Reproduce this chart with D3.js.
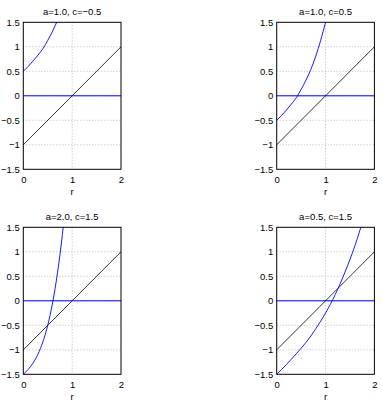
<!DOCTYPE html>
<html>
<head>
<meta charset="UTF-8">
<title>Four panels in r</title>
<script src="https://d3js.org/d3.v7.min.js"></script>
<style>
  body { margin: 0; background: #fff; }
  text { font-family: "Liberation Sans", Arial, Helvetica, sans-serif; font-size: 9.5px; fill: #000; }
  .grid line { stroke: #b8b8b8; stroke-width: 1; stroke-dasharray: 1,2; }
  .frame { fill: none; stroke: #000; stroke-width: 1; }
</style>
</head>
<body>
<svg width="382" height="403"></svg>
<script>
// panel titles (a, c)
var titles = ["a=1.0, c=\u22120.5", "a=1.0, c=0.5", "a=2.0, c=1.5", "a=0.5, c=1.5"];

// ticks
var xTicks = [0, 1, 2];
var yTicks = [-1.5, -1, -0.5, 0, 0.5, 1, 1.5];
var yTickLabels = ["\u22121.5", "\u22121", "\u22120.5", "0", "0.5", "1", "1.5"];

// black line, same in every panel
var lineR = [0, 2];
var lineY = [-1, 1];

// blue zero line
var zeroR = [0, 2];
var zeroY = [0, 0];

// blue curve
var curveR1 = [0, 0.1, 0.2, 0.3, 0.4, 0.5, 0.6, 0.7];
var curveY1 = [0.5, 0.6, 0.71, 0.83, 0.96, 1.13, 1.32, 1.54];

var curveR2 = [0, 0.1, 0.2, 0.3, 0.4, 0.5, 0.6, 0.7, 0.8, 0.9, 1.0];
var curveY2 = [-0.5, -0.4, -0.29, -0.17, -0.04, 0.13, 0.32, 0.54, 0.81, 1.13, 1.5];

var curveR3 = [0, 0.1, 0.2, 0.3, 0.4, 0.5, 0.6, 0.7, 0.8, 0.85];
var curveY3 = [-1.5, -1.4, -1.27, -1.09, -0.84, -0.5, -0.04, 0.57, 1.35, 1.81];

var curveR4 = [0, 0.2, 0.4, 0.6, 0.8, 1.0, 1.2, 1.4, 1.6, 1.8];
var curveY4 = [-1.5, -1.3, -1.08, -0.85, -0.57, -0.25, 0.13, 0.59, 1.12, 1.76];

var curvesR = [curveR1, curveR2, curveR3, curveR4];
var curvesY = [curveY1, curveY2, curveY3, curveY4];

var svg = d3.select("svg");

// axes boxes: two columns, two rows
var colLeft = [23.3, 276.7];
var rowTop = [22.3, 227.3];
var boxW = 97.7, boxH = 147;

function zip(rs, ys) {
  return rs.map(function(r, i) { return [r, ys[i]]; });
}

titles.forEach(function(title, i) {
  var left = colLeft[i % 2], top = rowTop[Math.floor(i / 2)];

  var x = d3.scaleLinear().domain([0, 2]).range([0, boxW]);
  var y = d3.scaleLinear().domain([-1.5, 1.5]).range([boxH, 0]);

  var g = svg.append("g").attr("transform", "translate(" + left + "," + top + ")");

  g.append("clipPath").attr("id", "clip" + i)
    .append("rect").attr("width", boxW).attr("height", boxH);

  // dotted grid at the inner ticks
  var grid = g.append("g").attr("class", "grid");
  grid.selectAll(".gy")
    .data(yTicks.slice(1, -1))
    .enter().append("line")
      .attr("x1", 0).attr("x2", boxW)
      .attr("y1", function(d) { return y(d); })
      .attr("y2", function(d) { return y(d); });
  grid.selectAll(".gx")
    .data(xTicks.slice(1, -1))
    .enter().append("line")
      .attr("y1", 0).attr("y2", boxH)
      .attr("x1", function(d) { return x(d); })
      .attr("x2", function(d) { return x(d); });

  var line = d3.line()
    .x(function(d) { return x(d[0]); })
    .y(function(d) { return y(d[1]); });

  var plot = g.append("g").attr("clip-path", "url(#clip" + i + ")");

  plot.append("path")
    .datum(zip(zeroR, zeroY))
    .attr("fill", "none").attr("stroke", "#0000ff").attr("stroke-width", 1)
    .attr("d", line);

  plot.append("path")
    .datum(zip(lineR, lineY))
    .attr("fill", "none").attr("stroke", "#000").attr("stroke-width", 0.8)
    .attr("d", line);

  plot.append("path")
    .datum(zip(curvesR[i], curvesY[i]))
    .attr("fill", "none").attr("stroke", "#0000ff").attr("stroke-width", 0.9)
    .attr("d", line.curve(d3.curveMonotoneX));

  // frame
  g.append("rect").attr("class", "frame")
    .attr("width", boxW).attr("height", boxH);

  // tick labels
  g.append("g").attr("transform", "translate(0," + boxH + ")")
    .call(d3.axisBottom(x).tickValues(xTicks).tickSize(0).tickPadding(7)
      .tickFormat(d3.format("d")))
    .call(function(a) { a.select(".domain").remove(); })
    .selectAll("text").attr("font-size", null).attr("font-family", null);

  g.append("g")
    .call(d3.axisLeft(y).tickValues(yTicks).tickSize(0).tickPadding(3.5)
      .tickFormat(function(d, k) { return yTickLabels[k]; }))
    .call(function(a) { a.select(".domain").remove(); })
    .selectAll("text").attr("font-size", null).attr("font-family", null);

  g.append("text")
    .attr("x", boxW / 2).attr("y", boxH + 25.5)
    .attr("text-anchor", "middle")
    .text("r");

  g.append("text")
    .attr("x", boxW / 2).attr("y", -7.5)
    .attr("text-anchor", "middle")
    .text(title);
});
</script>
</body>
</html>
